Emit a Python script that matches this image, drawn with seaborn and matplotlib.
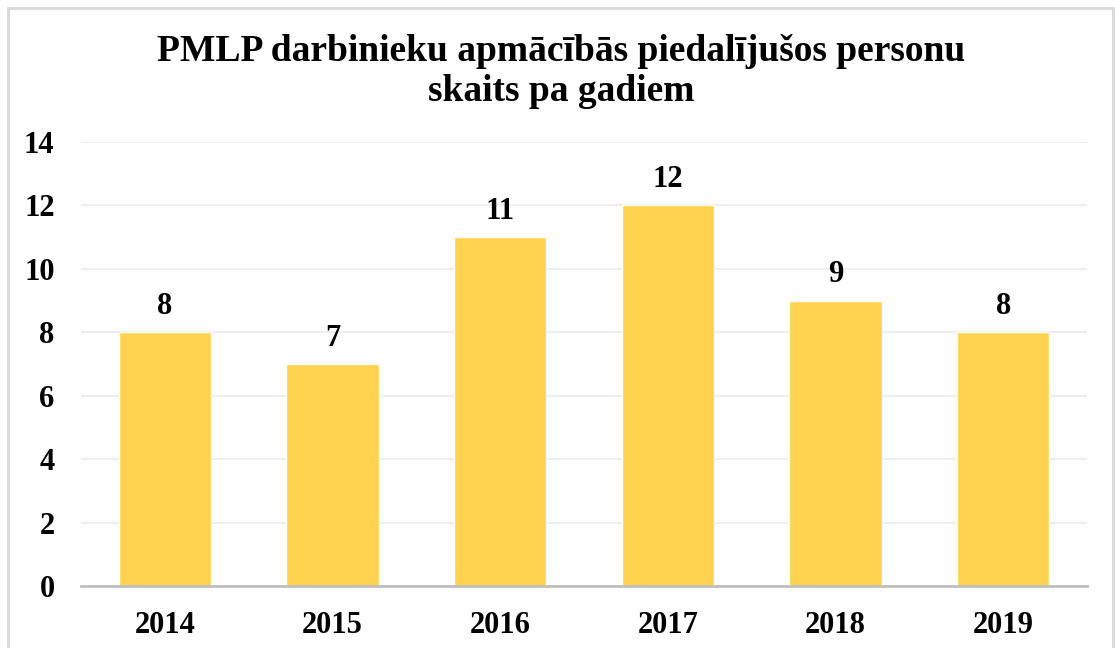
import pandas as pd
import seaborn as sns
import matplotlib.pyplot as plt
from matplotlib.patches import Rectangle

# data
years = ['2014', '2015', '2016', '2017', '2018', '2019']
persons = [8, 7, 11, 12, 9, 8]

df = pd.DataFrame({'year': years, 'persons': persons})

sns.set_style('white')
plt.rcParams['font.family'] = ['Liberation Serif', 'DejaVu Serif']
plt.rcParams['font.weight'] = 'bold'
plt.rcParams['text.color'] = 'black'
plt.rcParams['xtick.color'] = 'black'
plt.rcParams['ytick.color'] = 'black'

fig = plt.figure(figsize=(11.15, 6.48), dpi=100)
ax = fig.add_axes([0.0726, 0.0957, 0.9024, 0.6853])

sns.barplot(data=df, x='year', y='persons', color='#FFD24F', saturation=1,
            width=0.55, ax=ax, zorder=2)

ax.set_ylim(0, 14)
ax.set_yticks(range(0, 15, 2))
ax.yaxis.grid(True, color='#EBEBEB', linewidth=1.2, zorder=0)
ax.set_axisbelow(True)
for s in ['top', 'right', 'left']:
    ax.spines[s].set_visible(False)
ax.spines['bottom'].set_color('#BFBFBF')
ax.spines['bottom'].set_linewidth(2)
ax.set_xlabel('')
ax.set_ylabel('')
ax.tick_params(axis='both', length=0, labelsize=22, labelcolor='black')
ax.tick_params(axis='x', pad=18)
ax.tick_params(axis='y', pad=19)
for lab in ax.get_xticklabels() + ax.get_yticklabels():
    lab.set_fontweight('bold')

for c in ax.containers:
    ax.bar_label(c, fontsize=22, fontweight='bold', padding=8, color='black')

fig.text(0.503, 0.890, 'PMLP darbinieku apmācībās piedalījušos personu\nskaits pa gadiem',
         ha='center', va='center', fontsize=27, fontweight='bold', linespacing=1.2,
         color='black')

# light border around the chart
fig.patches.append(Rectangle((0.007, -0.01), 0.991, 0.998, transform=fig.transFigure,
                             fill=False, edgecolor='#D9D9D9', linewidth=2))

fig.savefig('out.png', dpi=100)
